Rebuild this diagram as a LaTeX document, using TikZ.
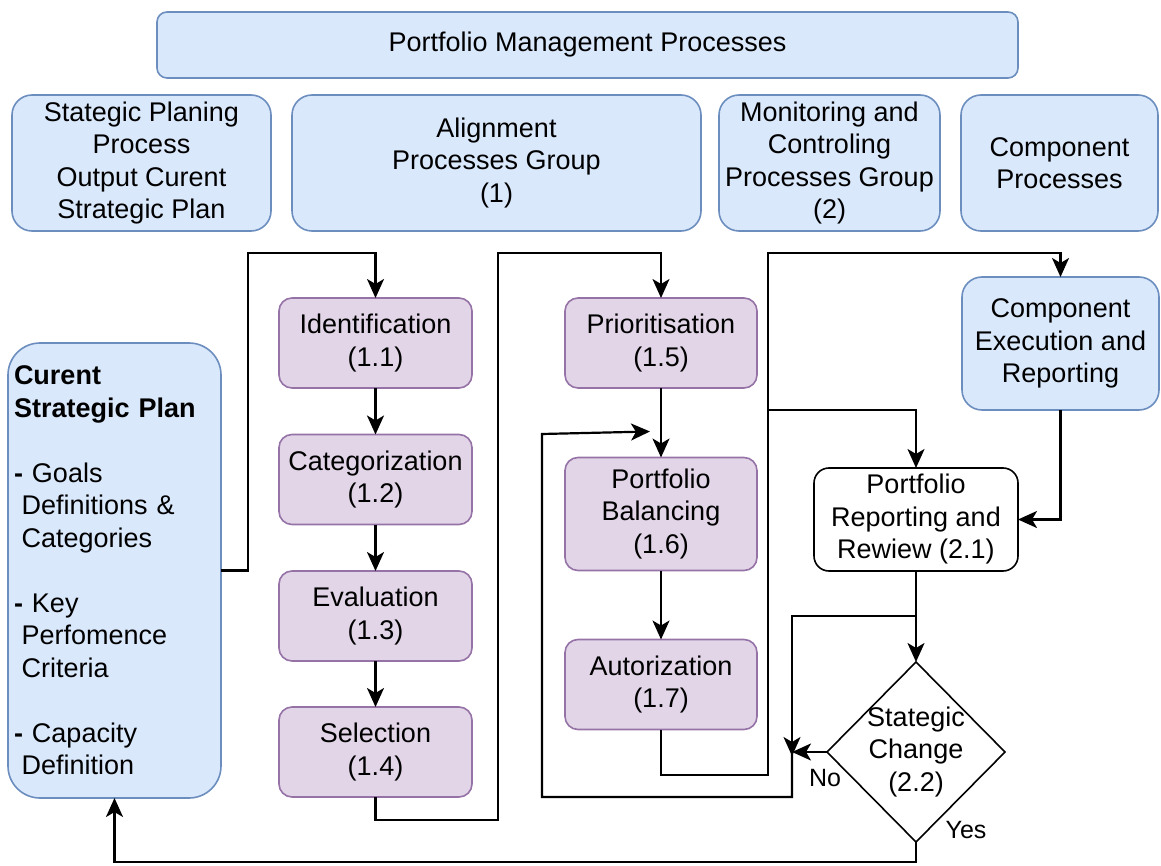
\documentclass[tikz,border=0pt]{standalone}
\usepackage{fontspec}
\setmainfont{Liberation Sans}
\usetikzlibrary{shapes.geometric,arrows.meta}
\definecolor{bfill}{HTML}{DAE8FC}
\definecolor{bstroke}{HTML}{6C8EBF}
\definecolor{pfill}{HTML}{E1D5E7}
\definecolor{pstroke}{HTML}{9673A6}
\newcommand\dgfont{\fontsize{27}{32.5}\selectfont}
\tikzset{
  boxbase/.style={rectangle, line width=1.6pt, align=center, inner sep=0pt, outer sep=0pt, font=\dgfont},
  bluebox/.style={boxbase, draw=bstroke, fill=bfill},
  purplebox/.style={boxbase, draw=pstroke, fill=pfill, minimum width=193pt, minimum height=90pt, rounded corners=13pt},
  whitebox/.style={boxbase, draw=black, fill=white},
  arr/.style={line width=2.2pt, -{Stealth[length=19pt,width=17pt,inset=5pt]}},
  lbl/.style={font=\fontsize{25}{30}\selectfont, inner sep=0pt}
}
\begin{document}
\begin{tikzpicture}[x=1pt,y=-1pt]
\useasboundingbox (0,0) rectangle (1161,866);
% header row
\node[bluebox, minimum width=861pt, minimum height=66pt, rounded corners=10pt] (top) at (587.5,45) {Portfolio Management Processes};
\node[bluebox, minimum width=259pt, minimum height=136pt, rounded corners=20pt] (spp) at (141.5,163) {Stategic Planing\\Process\\Output Curent\\Strategic Plan};
\node[bluebox, minimum width=409pt, minimum height=136pt, rounded corners=20pt] (apg) at (496.5,163) {Alignment\\Processes Group\\(1)};
\node[bluebox, minimum width=221pt, minimum height=136pt, rounded corners=20pt] (mcp) at (829.5,163) {Monitoring and\\Controling\\Processes Group\\(2)};
\node[bluebox, minimum width=197pt, minimum height=136pt, rounded corners=20pt] (cp) at (1059.5,163) {Component\\Processes};
% current strategic plan
\node[bluebox, minimum width=213pt, minimum height=455pt, text width=201pt, align=left, inner xsep=6pt, rounded corners=32pt] (csp) at (114.5,570.5)
 {\textbf{Curent}\\\textbf{Strategic Plan}\\[32.5pt]\textbf{-} Goals\\\hspace*{0.28em}Definitions \&\\\hspace*{0.28em}Categories\\[32.5pt]\textbf{-} Key\\\hspace*{0.28em}Perfomence\\\hspace*{0.28em}Criteria\\[32.5pt]\textbf{-} Capacity\\\hspace*{0.28em}Definition};
% alignment column 1
\node[purplebox] (id) at (375.5,343) {Identification\\(1.1)};
\node[purplebox] (cat) at (375.5,479.5) {Categorization\\(1.2)};
\node[purplebox] (ev) at (375.5,616) {Evaluation\\(1.3)};
\node[purplebox] (sel) at (375.5,752) {Selection\\(1.4)};
% alignment column 2
\node[purplebox, minimum width=192pt] (pri) at (661,343) {Prioritisation\\(1.5)};
\node[purplebox, minimum width=192pt, minimum height=113pt] (bal) at (661,514) {Portfolio\\Balancing\\(1.6)};
\node[purplebox, minimum width=192pt] (aut) at (661,684.5) {Autorization\\(1.7)};
% monitoring
\node[bluebox, minimum width=197pt, minimum height=133pt, rounded corners=20pt] (cer) at (1060.5,343.5) {Component\\Execution and\\Reporting};
\node[whitebox, minimum width=204pt, minimum height=103pt, rounded corners=15pt] (prr) at (916,519.5) {Portfolio\\Reporting and\\Rewiew (2.1)};
\node[diamond, draw=black, line width=1.6pt, fill=white, minimum width=178pt, minimum height=180pt, inner sep=0pt, outer sep=0pt] (dia) at (916,752) {};
\node[font=\dgfont, align=center, inner sep=0pt] (diat) at (dia.center) {Stategic\\Change\\(2.2)};
% connectors
\draw[arr] (csp.east) -| (248,253) -| (id.north);
\draw[arr] (id.south) -- (cat.north);
\draw[arr] (cat.south) -- (ev.north);
\draw[arr] (ev.south) -- (sel.north);
\draw[arr] (sel.south) |- (498,820) -- (498,253) -| (pri.north);
\draw[arr] (pri.south) -- (bal.north);
\draw[arr] (bal.south) -- (aut.north);
\draw[arr] (aut.south) |- (768,775) -- (768,253) -| (cer.north);
\coordinate (br) at (768,410);
\draw[arr] (br) -| (prr.north);
\draw[arr] (cer.south) |- (prr.east);
\draw[arr] (prr.south) -- (dia.north);
\coordinate (fb) at (916,616);
\coordinate (nj) at (792,752);
\draw[arr] (fb) -| ([yshift=-4pt]nj);
\draw[arr] (dia.west) -- (nj);
\draw[arr] (nj) -- (792,797) -- (542,797) -- (542,434) -- (650,431.5);
\draw[arr] (dia.south) -- (916,862) -| (csp.south);
% labels
\node[lbl] (no) at (825,778) {No};
\node[lbl] (yes) at (966,830) {Yes};
\end{tikzpicture}
\end{document}
